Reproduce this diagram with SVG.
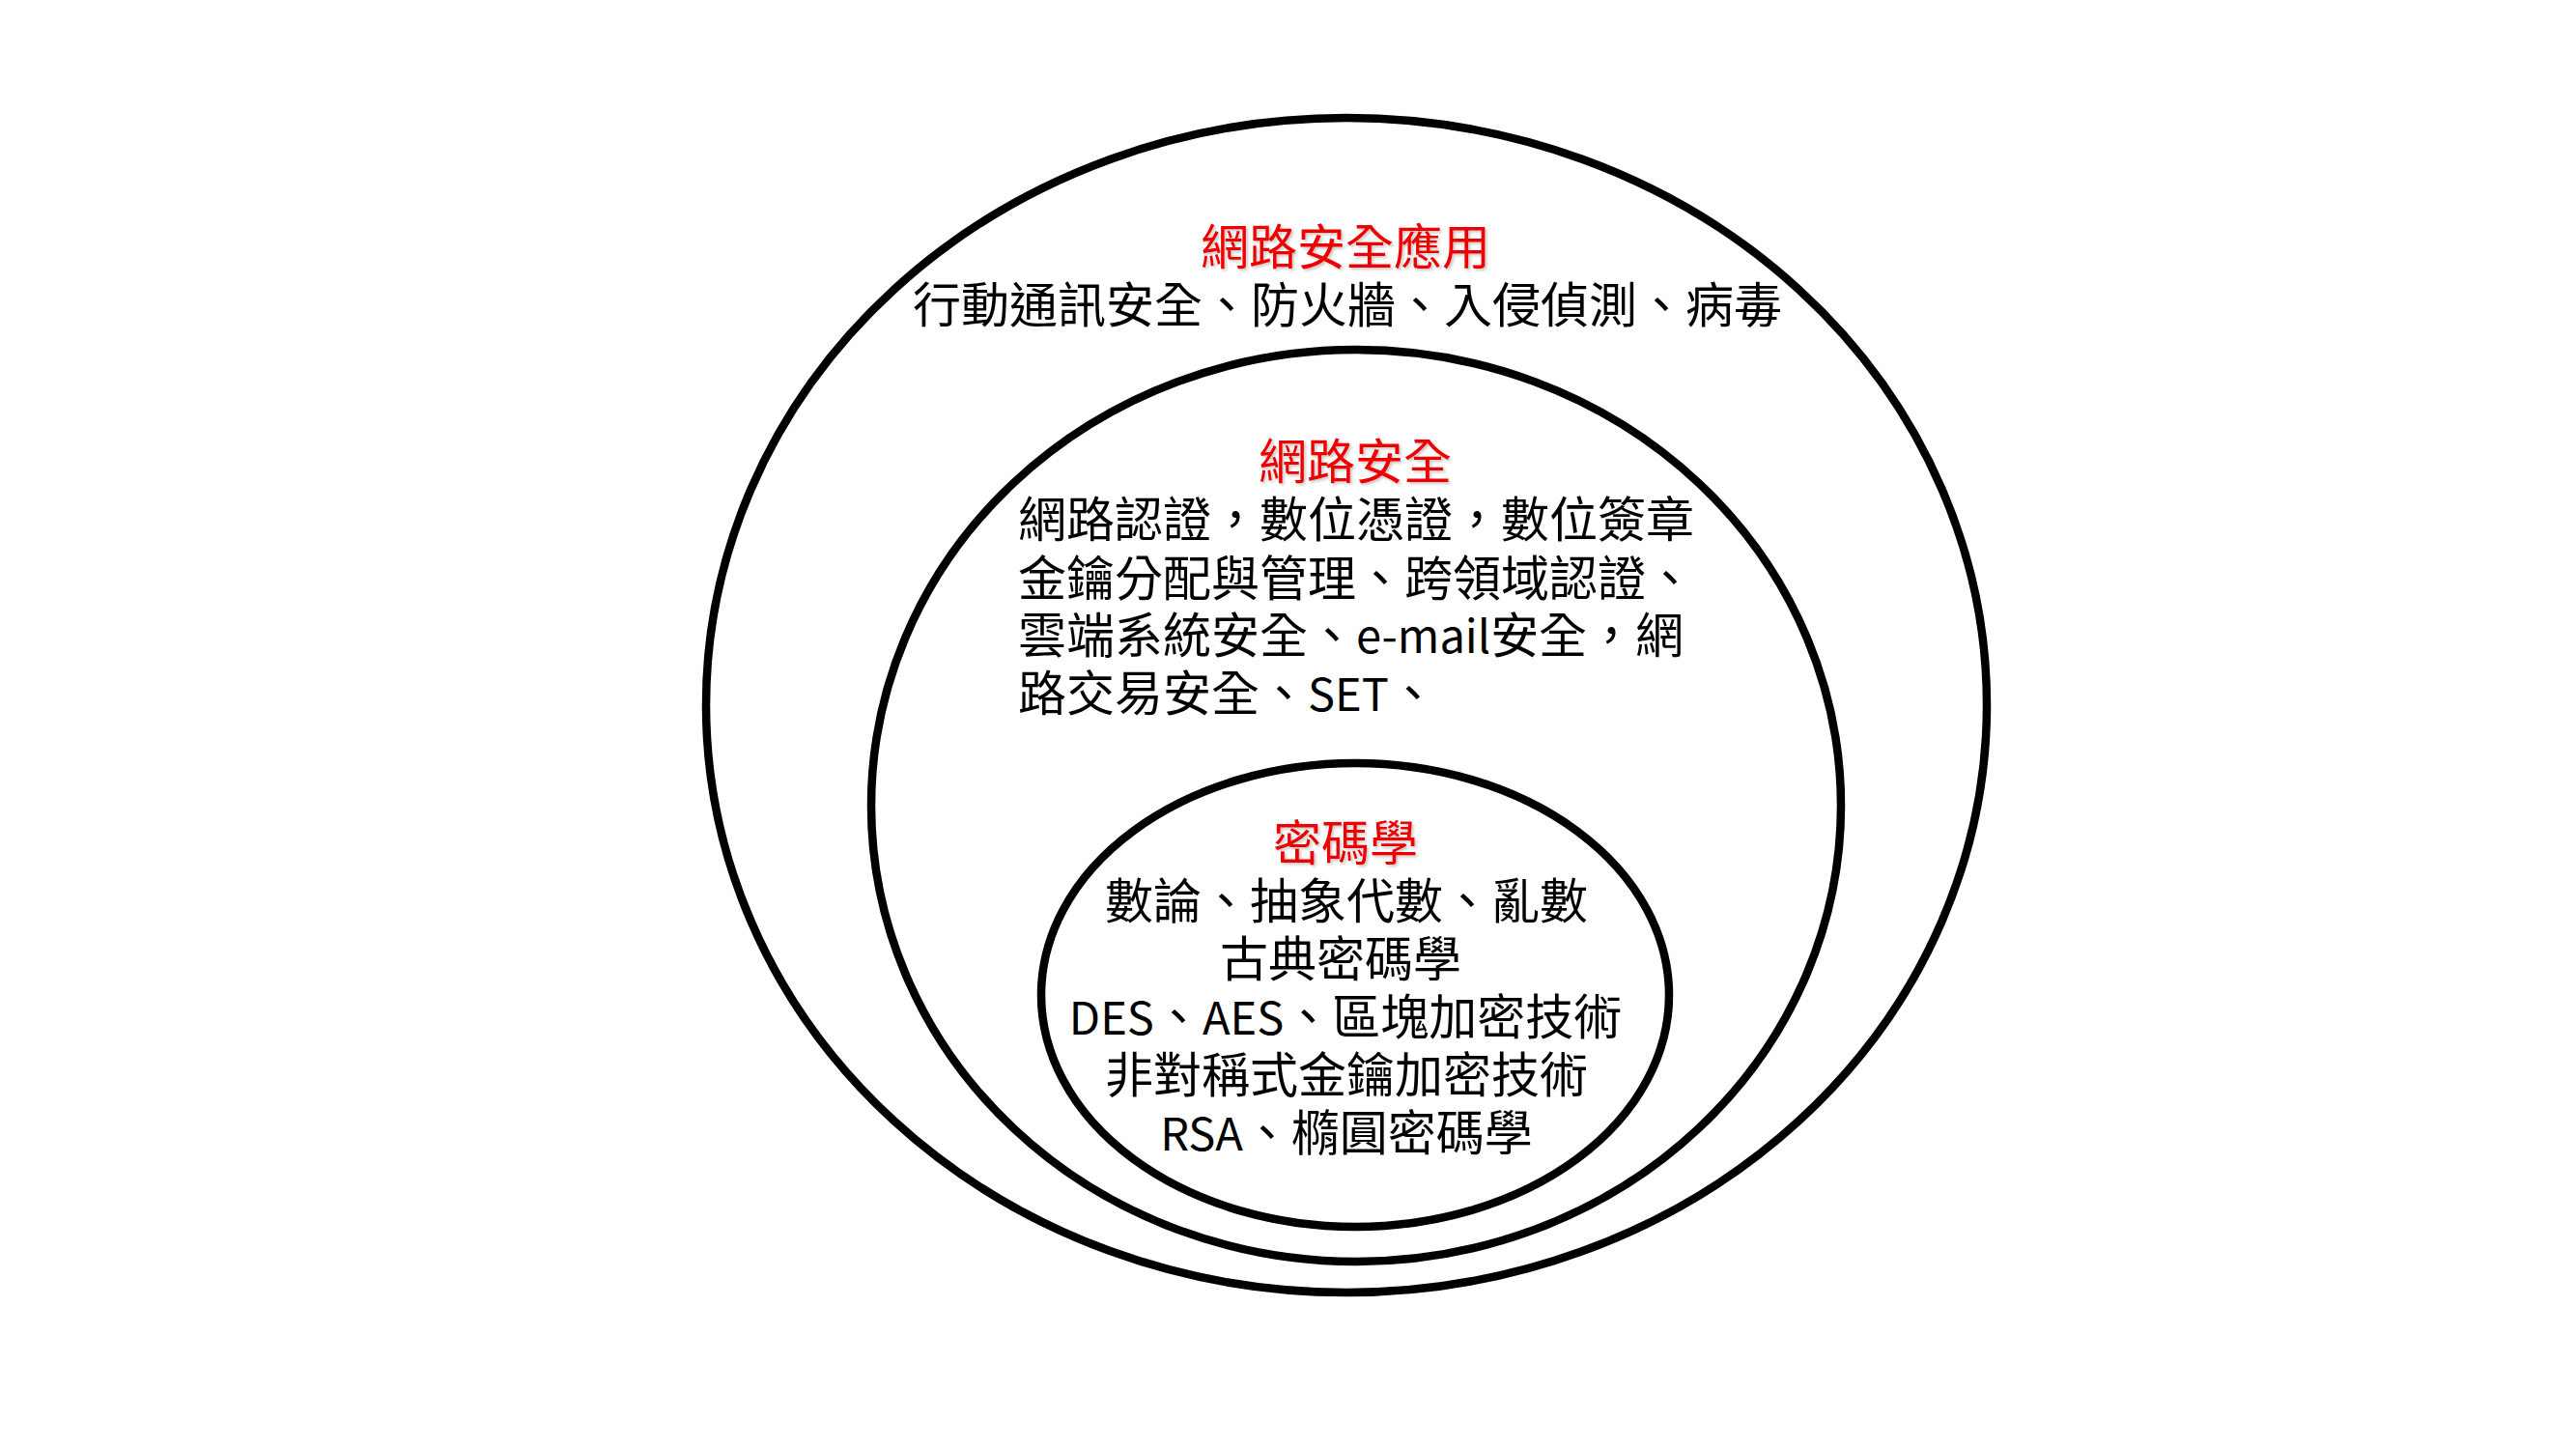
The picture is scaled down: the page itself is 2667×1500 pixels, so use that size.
<svg xmlns="http://www.w3.org/2000/svg" width="2667" height="1500" viewBox="0 0 2667 1500">
  <style>
    .ring { fill: none; stroke: #000000; stroke-width: 8.5; }
    .t { font-family: "Noto Sans CJK TC", "Noto Sans CJK SC", sans-serif; font-size: 50px; fill: #000000; }
    .title { font-family: "Noto Sans CJK TC", "Noto Sans CJK SC", sans-serif; font-size: 50px; fill: #EE0000; filter: url(#shadow); }
    .mid { text-anchor: middle; }
    .lat { font-size: 47px; }
  </style>
  <defs>
    <filter id="shadow" x="-10%" y="-30%" width="120%" height="160%">
      <feDropShadow dx="2" dy="2" stdDeviation="1.5" flood-color="#000000" flood-opacity="0.22"/>
    </filter>
  </defs>
  <rect x="0" y="0" width="2667" height="1500" fill="#FFFFFF"/>

  <g id="outer-network-security-applications">
    <ellipse class="ring" cx="1394" cy="730" rx="663" ry="608"/>
    <text class="title mid" x="1393" y="274">網路安全應用</text>
    <text class="t mid" x="1395" y="334">行動通訊安全、防火牆、入侵偵測、病毒</text>
  </g>

  <g id="middle-network-security">
    <ellipse class="ring" cx="1404" cy="834" rx="502" ry="472"/>
    <text class="title mid" x="1403" y="496">網路安全</text>
    <text class="t" x="1054" y="556">網路認證，數位憑證，數位簽章</text>
    <text class="t" x="1054" y="617">金鑰分配與管理、跨領域認證、</text>
    <text class="t" x="1054" y="676">雲端系統安全、<tspan class="lat">e-mail</tspan>安全，網</text>
    <text class="t" x="1054" y="736">路交易安全、<tspan class="lat">SET</tspan>、</text>
  </g>

  <g id="inner-cryptography">
    <ellipse class="ring" cx="1403" cy="1030" rx="325" ry="240"/>
    <text class="title mid" x="1393" y="891">密碼學</text>
    <text class="t mid" x="1394" y="951">數論、抽象代數、亂數</text>
    <text class="t mid" x="1388" y="1011">古典密碼學</text>
    <text class="t mid" x="1393" y="1071"><tspan class="lat">DES</tspan>、<tspan class="lat">AES</tspan>、區塊加密技術</text>
    <text class="t mid" x="1394" y="1131">非對稱式金鑰加密技術</text>
    <text class="t mid" x="1394" y="1191"><tspan class="lat">RSA</tspan>、橢圓密碼學</text>
  </g>

  <g id="connectors"/>
</svg>
